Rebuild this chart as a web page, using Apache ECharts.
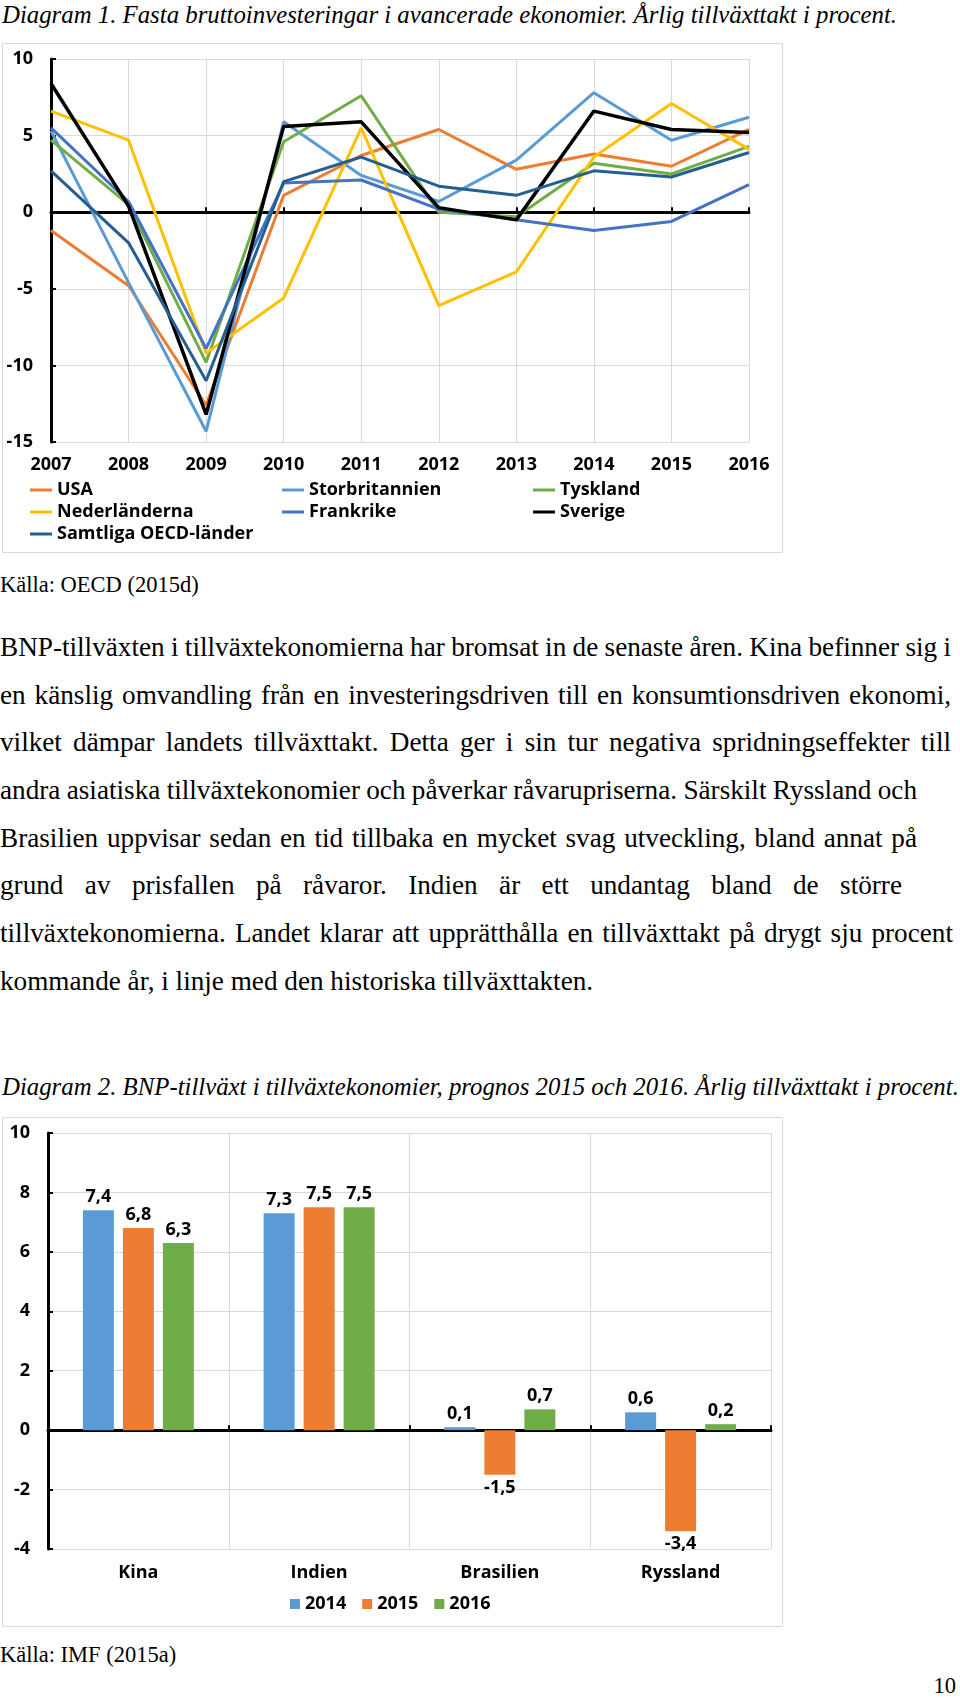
<!DOCTYPE html>
<html><head><meta charset="utf-8">
<script src="https://cdn.jsdelivr.net/npm/echarts@6/dist/echarts.min.js"></script>
<style>
body{margin:0;background:#fff;}
#page{position:relative;width:960px;height:1699px;overflow:hidden;background:#fff;}
.t{position:absolute;left:2px;white-space:nowrap;font-family:'Liberation Serif','Times New Roman',serif;color:#000;}
.cap{font-style:italic;font-size:24.8px;line-height:30px;}
.src{font-size:22.5px;line-height:30px;left:0;}
#para{position:absolute;left:0;top:624px;width:960px;font-family:'Liberation Serif','Times New Roman',serif;color:#000;font-size:27.2px;line-height:47.7px;}
#para div{height:47.7px;}
#para span{white-space:nowrap;}
</style></head><body><div id="page">
<div class="t cap" style="top:0">Diagram 1. Fasta bruttoinvesteringar i avancerade ekonomier. Årlig tillväxttakt i procent.</div>
<div id="c1" style="position:absolute;left:0;top:40px;width:800px;height:520px"></div>
<div class="t src" style="top:570px">Källa: OECD (2015d)</div>
<div id="para">
<div><span data-w="951">BNP-tillväxten i tillväxtekonomierna har bromsat in de senaste åren. Kina befinner sig i</span></div>
<div><span data-w="951">en känslig omvandling från en investeringsdriven till en konsumtionsdriven ekonomi,</span></div>
<div><span data-w="951">vilket dämpar landets tillväxttakt. Detta ger i sin tur negativa spridningseffekter till</span></div>
<div><span data-w="917">andra asiatiska tillväxtekonomier och påverkar råvarupriserna. Särskilt Ryssland och</span></div>
<div><span data-w="917">Brasilien uppvisar sedan en tid tillbaka en mycket svag utveckling, bland annat på</span></div>
<div><span data-w="902">grund av prisfallen på råvaror. Indien är ett undantag bland de större</span></div>
<div><span data-w="953">tillväxtekonomierna. Landet klarar att upprätthålla en tillväxttakt på drygt sju procent</span></div>
<div><span>kommande år, i linje med den historiska tillväxttakten.</span></div>
</div>
<div class="t cap" style="top:1072px">Diagram 2. BNP-tillväxt i tillväxtekonomier, prognos 2015 och 2016. Årlig tillväxttakt i procent.</div>
<div id="c2" style="position:absolute;left:0;top:1110px;width:800px;height:530px"></div>
<div class="t src" style="top:1640px">Källa: IMF (2015a)</div>
<div class="t src" style="top:1671px;left:auto;right:4px">10</div>
</div>
<script>
// ---------- Diagram 1 data ----------
const years = ['2007','2008','2009','2010','2011','2012','2013','2014','2015','2016'];
const usa            = [-1.2, -4.8, -12.6, 1.1, 3.7, 5.4, 2.8, 3.8, 3.0, 5.4];
const storbritannien = [5.3, -4.6, -14.3, 5.9, 2.4, 0.7, 3.4, 7.8, 4.7, 6.2];
const tyskland       = [4.7, 0.5, -9.8, 4.6, 7.6, 0.0, -0.3, 3.2, 2.5, 4.3];
const nederlanderna  = [6.6, 4.7, -9.2, -5.6, 5.5, -6.1, -3.9, 3.6, 7.1, 4.1];
const frankrike      = [5.5, 0.7, -8.9, 1.9, 2.1, 0.2, -0.5, -1.2, -0.6, 1.8];
const sverige        = [8.4, 0.4, -13.2, 5.6, 5.9, 0.3, -0.5, 6.6, 5.4, 5.2];
const oecd           = [2.7, -2.0, -11.0, 2.0, 3.6, 1.7, 1.1, 2.7, 2.3, 3.9];
const yTicks1 = [-15, -10, -5, 0, 5, 10];

// ---------- Diagram 2 data ----------
const countries = ['Kina', 'Indien', 'Brasilien', 'Ryssland'];
const g2014 = [7.4, 7.3, 0.1, 0.6];
const g2015 = [6.8, 7.5, -1.5, -3.4];
const g2016 = [6.3, 7.5, 0.7, 0.2];
const yTicks2 = [-4, -2, 0, 2, 4, 6, 8, 10];

// fit justified paragraph lines to their widths via word spacing
document.querySelectorAll('#para span[data-w]').forEach(s => {
  const target = +s.dataset.w;
  const nat = s.getBoundingClientRect().width;
  const spaces = (s.textContent.match(/ /g) || []).length;
  if (spaces) s.style.wordSpacing = ((target - nat) / spaces) + 'px';
});

const F = {fontFamily:'Open Sans', fontWeight:'bold', fontSize:18, color:'#000'};
const GRID = '#d9d9d9';

// ---------- Chart 1 ----------
const c1 = echarts.init(document.getElementById('c1'), null, {renderer:'canvas'});
const lineDefs = [
  ['USA', usa, '#ED7D31', 3],
  ['Storbritannien', storbritannien, '#5B9BD5', 3],
  ['Tyskland', tyskland, '#70AD47', 3],
  ['Nederländerna', nederlanderna, '#FFC000', 3],
  ['Frankrike', frankrike, '#4472C4', 3],
  ['Sverige', sverige, '#000000', 3.5],
  ['Samtliga OECD-länder', oecd, '#255E91', 3]
];
const legBase = {orient:'vertical', top:439, padding:0, itemGap:0, icon:'rect', itemWidth:22, itemHeight:3,
  selectedMode:false, textStyle:Object.assign({lineHeight:22}, F)};
c1.setOption({
  animation:false,
  graphic:[{type:'rect', silent:true, z:0, shape:{x:2.5, y:3.5, width:780, height:509},
    style:{fill:'none', stroke:GRID, lineWidth:1}}],
  grid:{left:51, right:51, top:19, bottom:118},
  legend:[
    Object.assign({left:30, data:['USA','Nederländerna','Samtliga OECD-länder']}, legBase),
    Object.assign({left:282, data:['Storbritannien','Frankrike']}, legBase),
    Object.assign({left:533, data:['Tyskland','Sverige']}, legBase)
  ],
  xAxis:[
    {type:'category', data:years, boundaryGap:false, position:'bottom',
     axisLine:{show:false, onZero:false}, axisTick:{show:false},
     axisLabel:Object.assign({margin:14}, F),
     splitLine:{show:true, lineStyle:{color:GRID, width:1}}},
    {type:'category', data:years, boundaryGap:false, position:'bottom',
     axisLine:{show:true, onZero:true, lineStyle:{color:'#000', width:3}},
     axisTick:{show:true, inside:true, length:5, lineStyle:{color:'#000', width:2}},
     axisLabel:{show:false}, splitLine:{show:false}}
  ],
  yAxis:{type:'value', min:yTicks1[0], max:yTicks1[yTicks1.length-1], interval:5,
    axisLine:{show:true, onZero:false, lineStyle:{color:'#000', width:3}},
    axisTick:{show:true, inside:true, length:5, lineStyle:{color:'#000', width:2}},
    axisLabel:Object.assign({margin:18}, F),
    splitLine:{show:true, lineStyle:{color:GRID, width:1}}},
  series: lineDefs.map(d => ({name:d[0], type:'line', data:d[1], color:d[2], symbol:'none',
    showSymbol:false, lineStyle:{width:d[3], color:d[2]}, itemStyle:{color:d[2]}, z:3}))
});

// ---------- Chart 2 ----------
const c2 = echarts.init(document.getElementById('c2'), null, {renderer:'canvas'});
const barDefs = [['2014', g2014, '#5B9BD5'], ['2015', g2015, '#ED7D31'], ['2016', g2016, '#70AD47']];
c2.setOption({
  animation:false,
  graphic:[{type:'rect', silent:true, z:0, shape:{x:2.5, y:7.5, width:780, height:509},
    style:{fill:'none', stroke:GRID, lineWidth:1}}],
  grid:{left:48, right:29, top:23, bottom:91},
  legend:{left:290, top:483, padding:0, itemGap:16, icon:'rect', itemWidth:10, itemHeight:10,
    selectedMode:false, textStyle:Object.assign({lineHeight:22}, F), data:['2014','2015','2016']},
  xAxis:[
    {type:'category', data:countries, boundaryGap:true, position:'bottom',
     axisLine:{show:false, onZero:false}, axisTick:{show:false},
     axisLabel:Object.assign({margin:15, interval:0}, F),
     splitLine:{show:true, interval:0, lineStyle:{color:GRID, width:1}}},
    {type:'category', data:countries, boundaryGap:true, position:'bottom',
     axisLine:{show:true, onZero:true, lineStyle:{color:'#000', width:3}},
     axisTick:{show:true, inside:true, length:5, interval:0, lineStyle:{color:'#000', width:2}},
     axisLabel:{show:false}, splitLine:{show:false}}
  ],
  yAxis:{type:'value', min:yTicks2[0], max:yTicks2[yTicks2.length-1], interval:2,
    axisLine:{show:true, onZero:false, lineStyle:{color:'#000', width:3}},
    axisTick:{show:true, inside:true, length:5, lineStyle:{color:'#000', width:2}},
    axisLabel:Object.assign({margin:18}, F),
    splitLine:{show:true, lineStyle:{color:GRID, width:1}}},
  series: barDefs.map(d => ({name:d[0], type:'bar', barWidth:31, barGap:'29%', color:d[2],
    itemStyle:{color:d[2]}, z:3,
    label:Object.assign({show:true, position:'top', distance:4,
      formatter:p => String(p.value).replace('.', ',')}, F),
    data:d[1].map(v => v < 0 ? {value:v, label:{position:'bottom'}} : v)}))
});
</script>
</body></html>
